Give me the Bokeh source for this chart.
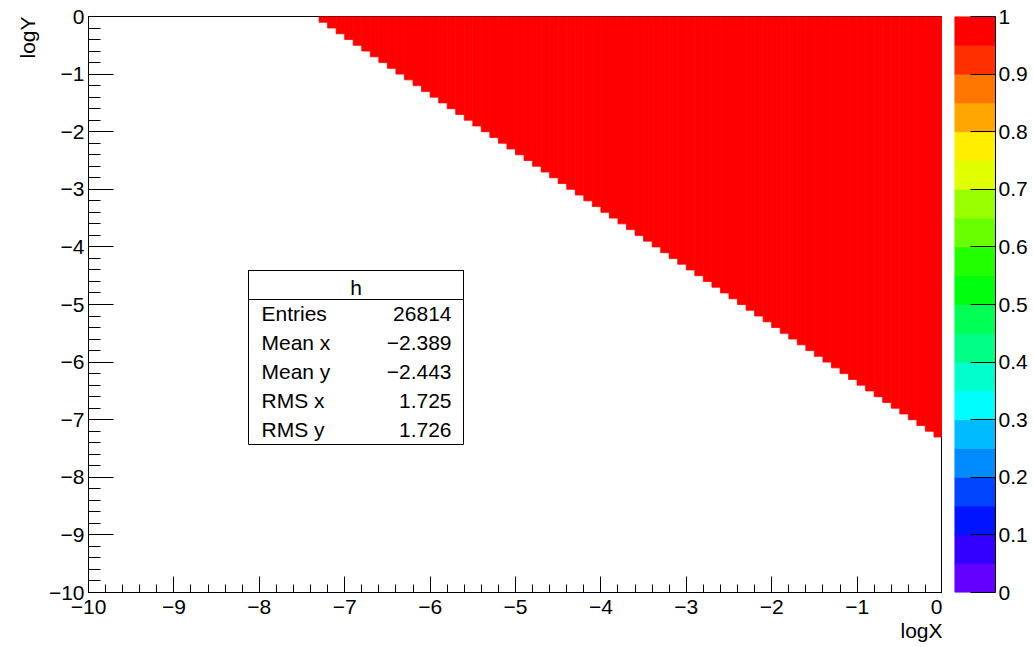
import colorsys
from bokeh.plotting import figure
from bokeh.layouts import row
from bokeh.models import (LinearColorMapper, FixedTicker, CustomJSTickFormatter,
                          Label, BoxAnnotation, ColumnDataSource, Title)
from bokeh.embed import file_html
from bokeh.resources import INLINE

# ---- data: each filled column of the 2D histogram ----
# left edge of each filled logX bin (bin width 0.1)
col_left = [-7.3, -7.2, -7.1, -7.0, -6.9, -6.8, -6.7, -6.6, -6.5, -6.4,
            -6.3, -6.2, -6.1, -6.0, -5.9, -5.8, -5.7, -5.6, -5.5, -5.4,
            -5.3, -5.2, -5.1, -5.0, -4.9, -4.8, -4.7, -4.6, -4.5, -4.4,
            -4.3, -4.2, -4.1, -4.0, -3.9, -3.8, -3.7, -3.6, -3.5, -3.4,
            -3.3, -3.2, -3.1, -3.0, -2.9, -2.8, -2.7, -2.6, -2.5, -2.4,
            -2.3, -2.2, -2.1, -2.0, -1.9, -1.8, -1.7, -1.6, -1.5, -1.4,
            -1.3, -1.2, -1.1, -1.0, -0.9, -0.8, -0.7, -0.6, -0.5, -0.4,
            -0.3, -0.2, -0.1]
# lowest filled logY edge in that column (filled up to logY = 0)
col_bottom = [-0.1, -0.2, -0.3, -0.4, -0.5, -0.6, -0.7, -0.8, -0.9, -1.0,
              -1.1, -1.2, -1.3, -1.4, -1.5, -1.6, -1.7, -1.8, -1.9, -2.0,
              -2.1, -2.2, -2.3, -2.4, -2.5, -2.6, -2.7, -2.8, -2.9, -3.0,
              -3.1, -3.2, -3.3, -3.4, -3.5, -3.6, -3.7, -3.8, -3.9, -4.0,
              -4.1, -4.2, -4.3, -4.4, -4.5, -4.6, -4.7, -4.8, -4.9, -5.0,
              -5.1, -5.2, -5.3, -5.4, -5.5, -5.6, -5.7, -5.8, -5.9, -6.0,
              -6.1, -6.2, -6.3, -6.4, -6.5, -6.6, -6.7, -6.8, -6.9, -7.0,
              -7.1, -7.2, -7.3]
col_value = [1.0] * len(col_left)
bin_width = 0.1

stats_names = ["Entries", "Mean x", "Mean y", "RMS x", "RMS y"]
stats_values = ["26814", "\u22122.389", "\u22122.443", "1.725", "1.726"]
z_ticks = [0.0, 0.1, 0.2, 0.3, 0.4, 0.5, 0.6, 0.7, 0.8, 0.9, 1.0]

# ---- ROOT "pretty" palette, 20 contour levels ----
def root_palette(ncont=20, ncol=50):
    cols = []
    for k in range(ncont):
        idx = int((k + 0.99) * ncol / ncont)
        hue = 280.0 - (idx + 1) * (280.0 / ncol)
        r, g, b = colorsys.hls_to_rgb((hue % 360) / 360.0, 0.5, 1.0)
        cols.append("#%02x%02x%02x" % (int(round(r * 255)), int(round(g * 255)), int(round(b * 255))))
    return cols

palette = root_palette()
mapper = LinearColorMapper(palette=palette, low=0.0, high=1.0)

FONT = "Liberation Sans"
FS = "21px"
FW, FH = 854, 576
LEFT, TOP, BOTTOM = 88, 16, 55

p = figure(frame_width=FW, frame_height=FH, x_range=(-10, 0), y_range=(-10, 0),
           output_backend="svg", toolbar_location=None,
           min_border_left=LEFT, min_border_top=TOP, min_border_bottom=BOTTOM, min_border_right=0)
p.xgrid.visible = False
p.ygrid.visible = False
p.outline_line_color = "black"
p.outline_line_width = 1
p.background_fill_color = "white"

src = ColumnDataSource(dict(left=col_left,
                            right=[v + bin_width for v in col_left],
                            bottom=col_bottom,
                            top=[0.0] * len(col_left),
                            z=col_value))
p.quad(left="left", right="right", bottom="bottom", top="top", source=src,
       fill_color={"field": "z", "transform": mapper},
       line_color={"field": "z", "transform": mapper}, line_width=0.8)

fmt = CustomJSTickFormatter(code="return Math.round(tick).toString().replace('-', '\u2212');")
for ax, tin, min_in, stand in ((p.xaxis[0], 16, 8, 7), (p.yaxis[0], 25, 12, 4)):
    ax.ticker = FixedTicker(ticks=list(range(-10, 1)),
                            minor_ticks=[-10 + 0.2 * i for i in range(51)])
    ax.major_tick_in = tin
    ax.major_tick_out = 0
    ax.minor_tick_in = min_in
    ax.minor_tick_out = 0
    ax.major_label_text_font = FONT
    ax.major_label_text_font_size = FS
    ax.major_label_text_color = "black"
    ax.major_label_standoff = stand
    ax.axis_line_color = "black"
    ax.major_tick_line_color = "black"
    ax.minor_tick_line_color = "black"
    ax.formatter = fmt

# axis titles (ROOT style: right-aligned at the axis end)
p.add_layout(Title(text="logX", align="right", text_font=FONT, text_font_size=FS,
                   text_font_style="normal", text_color="black", standoff=0), "below")
p.add_layout(Title(text="logY", align="right", text_font=FONT, text_font_size=FS,
                   text_font_style="normal", text_color="black", standoff=14), "left")

# ---- stats box (positions in pixels of the picture -> data) ----
def dx(px):
    return -10 + (px - LEFT) / FW * 10

def dy(py):
    return -(py - TOP) / FH * 10

p.add_layout(BoxAnnotation(left=dx(248), right=dx(463), top=dy(270), bottom=dy(444),
                           fill_color="white", fill_alpha=1, line_color="black", line_width=1,
                           line_alpha=1))
p.add_layout(BoxAnnotation(left=dx(248), right=dx(463), top=dy(270), bottom=dy(299),
                           fill_alpha=0, line_color="black", line_width=1, line_alpha=1))
p.add_layout(Label(x=dx(355.5), y=dy(287), text="h", text_align="center",
                   text_baseline="middle", text_font=FONT, text_font_size=FS, text_color="black"))
row_mid = [313, 342, 371, 400, 429]
for name, val, ym in zip(stats_names, stats_values, row_mid):
    p.add_layout(Label(x=dx(261), y=dy(ym), text=name, text_align="left",
                       text_baseline="middle", text_font=FONT, text_font_size=FS,
                       text_color="black"))
    p.add_layout(Label(x=dx(451), y=dy(ym), text=val, text_align="right",
                       text_baseline="middle", text_font=FONT, text_font_size=FS,
                       text_color="black"))

# ---- colour bar as its own small figure ----
lev_lo = [i / len(palette) for i in range(len(palette))]
lev_hi = [(i + 1) / len(palette) for i in range(len(palette))]
cbf = figure(frame_width=41, frame_height=FH, x_range=(0, 1), y_range=(0, 1),
             y_axis_location="right", output_backend="svg", toolbar_location=None,
             min_border_left=12, min_border_top=TOP, min_border_bottom=BOTTOM, min_border_right=0)
cbf.quad(left=0, right=1, bottom=lev_lo, top=lev_hi, fill_color=palette, line_color=palette,
         line_width=0.8)
cbf.xaxis.visible = False
cbf.xgrid.visible = False
cbf.ygrid.visible = False
cbf.outline_line_color = None
cax = cbf.yaxis[0]
cax.ticker = FixedTicker(ticks=z_ticks, minor_ticks=[])
cax.formatter = CustomJSTickFormatter(code="return String(Math.round(tick*10)/10);")
cax.major_tick_in = 25
cax.major_tick_out = 0
cax.minor_tick_in = 0
cax.minor_tick_out = 0
cax.major_label_text_font = FONT
cax.major_label_text_font_size = FS
cax.major_label_text_color = "black"
cax.major_label_standoff = 3
cax.axis_line_color = "black"
cax.major_tick_line_color = "black"

layout = row(p, cbf, spacing=0)
open("out.html", "w").write(file_html(layout, INLINE))
